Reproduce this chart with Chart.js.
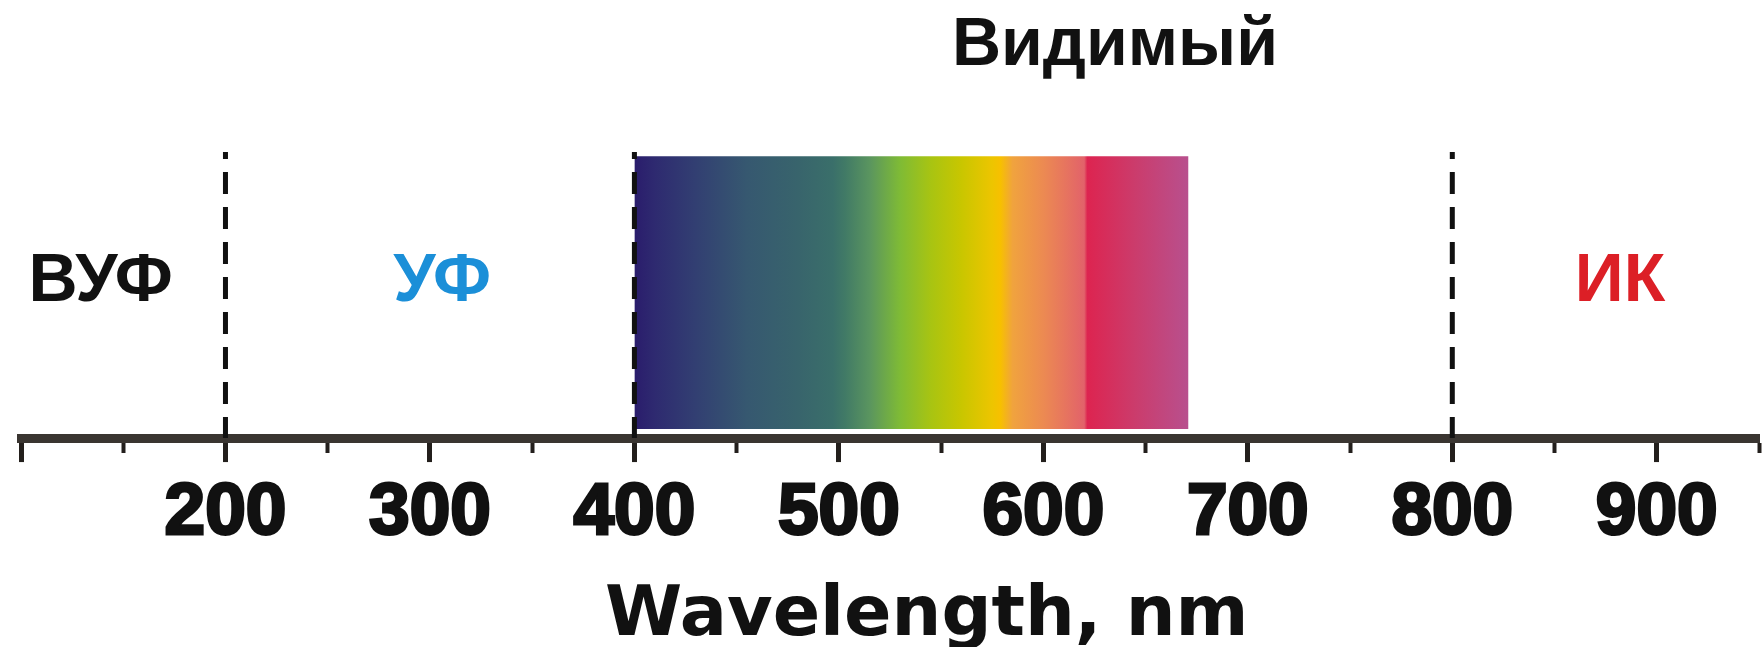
<!DOCTYPE html>
<html>
<head>
<meta charset="utf-8">
<title>Wavelength spectrum</title>
<script src="https://cdn.jsdelivr.net/npm/chart.js@4.4.1/dist/chart.umd.min.js"></script>
<style>
  html, body { margin: 0; padding: 0; background: #ffffff; }
  #chart { display: block; }
</style>
</head>
<body>
<canvas id="chart" width="1762" height="647"></canvas>
<script>
// axis range, nm
const wavelengthMin = 100;
const wavelengthMax = 950;
const tickLabels = [200, 300, 400, 500, 600, 700, 800, 900];

// region borders (dashed lines)
const boundaryNm = [200, 400, 800];

// visible band and its colours
const visibleBand = [400, 671];
const spectrumNm = [400, 410, 430, 455, 480, 497, 503, 515, 530, 545, 560, 575, 579, 585, 600, 620, 621.5, 645, 671];
const spectrumColors = ['#2a1c6c', '#2e2a70', '#323f72', '#365870', '#38646c', '#3a6f6a', '#417a66', '#5a955f',
  '#7fbb35', '#a8c412', '#c9c600', '#edc500', '#f7c000', '#f0a33e', '#ec8a52', '#e2626a', '#dd2450', '#cb3c6c', '#b8508e'];

// region names
const regionNames = ['ВУФ', 'УФ', 'Видимый', 'ИК'];
const regionNm = [139, 306, 635, 882];
const regionColors = ['#111111', '#1b8fd8', '#111111', '#dc1f26'];

const axisTitle = 'Wavelength, nm';

function spectrumFill(ctx) {
  const chart = ctx.chart;
  const area = chart.chartArea;
  if (!area) return spectrumColors[0];
  const xs = chart.scales.x;
  const x0 = xs.getPixelForValue(visibleBand[0]);
  const x1 = xs.getPixelForValue(visibleBand[1]);
  const g = chart.ctx.createLinearGradient(x0, 0, x1, 0);
  const span = visibleBand[1] - visibleBand[0];
  spectrumNm.forEach((nm, i) => {
    g.addColorStop((nm - visibleBand[0]) / span, spectrumColors[i]);
  });
  return g;
}

// dashed borders, drawn top -> bottom
const datasets = boundaryNm.map(nm => ({
  type: 'line',
  data: [{ x: nm, y: 100 }, { x: nm, y: 0 }],
  borderColor: '#111111',
  borderWidth: 5,
  borderDash: [22, 13],
  borderDashOffset: 15,
  pointRadius: 0,
  fill: false,
  order: 1
}));

datasets.push({
  type: 'line',
  data: [{ x: visibleBand[0], y: 98.5 }, { x: visibleBand[1], y: 98.5 }],
  borderWidth: 0,
  borderColor: 'rgba(0,0,0,0)',
  backgroundColor: spectrumFill,
  pointRadius: 0,
  fill: { value: 3.2 },
  order: 2
});

// region labels + axis title
const labelPlugin = {
  id: 'regionLabels',
  afterDraw(chart) {
    const ctx = chart.ctx;
    const xs = chart.scales.x;
    const ys = chart.scales.y;
    const levels = [54.5, 54.5, 137, 54.5];
    ctx.save();
    ctx.textAlign = 'center';
    ctx.textBaseline = 'middle';
    ctx.font = 'bold 68px "Liberation Sans", Arial, sans-serif';
    regionNames.forEach((name, i) => {
      ctx.fillStyle = regionColors[i];
      ctx.fillText(name, xs.getPixelForValue(regionNm[i]), ys.getPixelForValue(levels[i]));
    });
    ctx.font = 'bold 70px "DejaVu Sans", sans-serif';
    ctx.fillStyle = '#111111';
    ctx.textBaseline = 'alphabetic';
    ctx.fillText(axisTitle, xs.getPixelForValue(543), xs.top + 197);
    ctx.restore();
  }
};

new Chart(document.getElementById('chart'), {
  data: { datasets: datasets },
  options: {
    responsive: false,
    animation: false,
    layout: { padding: { top: 152, left: 21, right: 3, bottom: 82 } },
    plugins: { legend: { display: false }, tooltip: { enabled: false } },
    scales: {
      x: {
        type: 'linear',
        min: wavelengthMin,
        max: wavelengthMax,
        border: { display: true, width: 9, color: '#3a3531' },
        grid: {
          drawOnChartArea: false,
          drawTicks: true,
          tickLength: 24,
          tickColor: '#231f1c',
          tickWidth: c => (c.tick && c.tick.value % 100 === 0) ? 5 : 4,
          tickBorderDash: c => (c.tick && c.tick.value % 100 === 0) ? [] : [10, 40]
        },
        ticks: {
          stepSize: 50,
          autoSkip: false,
          maxRotation: 0,
          minRotation: 0,
          padding: 0,
          color: '#111111',
          textStrokeColor: '#111111',
          textStrokeWidth: 3,
          font: { family: '"Liberation Sans", Arial, sans-serif', weight: 'bold', size: 73, lineHeight: 1.41 },
          callback: v => tickLabels.includes(v) ? String(v) : ''
        }
      },
      y: { display: false, min: 0, max: 100 }
    }
  },
  plugins: [labelPlugin]
});
</script>
</body>
</html>
